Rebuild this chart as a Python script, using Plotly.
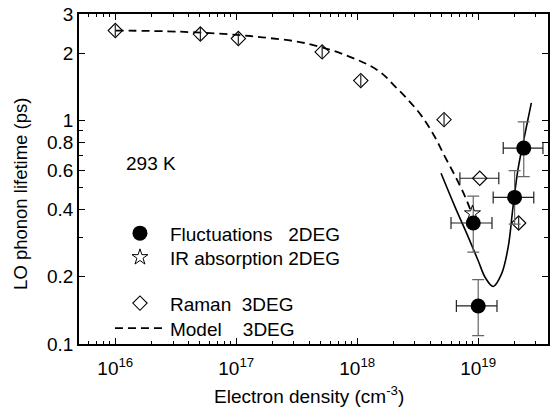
import plotly.graph_objects as go

# ---- data ----
# Fluctuations 2DEG (filled circles) with asymmetric error bars
fluc_x = [9.1e18, 1.0e19, 2.0e19, 2.38e19]
fluc_y = [0.348, 0.148, 0.453, 0.753]
fluc_x_lo = [5.96e18, 6.6e18, 1.33e19, 1.61e19]
fluc_x_hi = [1.30e19, 1.43e19, 2.88e19, 3.43e19]
fluc_y_lo = [0.258, 0.109, 0.344, 0.561]
fluc_y_hi = [0.459, 0.194, 0.597, 0.987]

# IR absorption 2DEG (open star)
ir_x = [8.97e18]
ir_y = [0.384]

# Raman 3DEG (open diamonds)
raman_x = [1.0e16, 5.05e16, 1.04e17, 5.13e17, 1.07e18, 5.22e18, 1.03e19, 2.16e19]
raman_y = [2.53, 2.44, 2.33, 2.03, 1.51, 1.01, 0.552, 0.348]
raman_x_lo = [None, None, None, None, None, None, 7.06e18, None]
raman_x_hi = [None, None, None, None, None, None, 1.48e19, None]

# Model 3DEG (dashed curve)
model_x = [1.0e16, 3.4e16, 1.0e17, 1.64e17, 3.75e17, 8.5e17, 1.5e18, 2.06e18,
           2.7e18, 3.4e18, 4.3e18, 5.3e18, 6.5e18, 7.8e18, 8.6e18]
model_y = [2.53, 2.50, 2.42, 2.36, 2.22, 1.94, 1.67, 1.42,
           1.22, 1.05, 0.86, 0.69, 0.56, 0.456, 0.40]

# Fit through fluctuation data (solid curve)
fit_x = [4.93e18, 6.43e18, 8.28e18, 1.0e19, 1.14e19, 1.33e19, 1.56e19, 1.77e19,
         1.94e19, 2.13e19, 2.38e19, 2.75e19]
fit_y = [0.581, 0.411, 0.301, 0.236, 0.199, 0.181, 0.206, 0.272,
         0.411, 0.602, 0.821, 1.2]

x_tickvals = [1e16, 1e17, 1e18, 1e19]
x_ticktext = ["10<sup>16</sup>", "10<sup>17</sup>", "10<sup>18</sup>", "10<sup>19</sup>"]
x_minor = [float(m) * 10.0 ** e for e in (15, 16, 17, 18, 19) for m in range(2, 10)]
y_tickvals = [0.1, 0.2, 0.4, 0.6, 0.8, 1, 2, 3]
y_ticktext = ["0.1", "0.2", "0.4", "0.6", "0.8", "1", "2", "3"]
y_minor = [0.3, 0.5, 0.7, 0.9]

FONT = "Liberation Sans, Arial, Helvetica, sans-serif"

def minus(vals, lo):
    return [None if l is None else v - l for v, l in zip(vals, lo)]

def plus(vals, hi):
    return [None if h is None else h - v for v, h in zip(vals, hi)]

fig = go.Figure()

fig.add_trace(go.Scatter(
    x=fit_x, y=fit_y, mode="lines", line=dict(color="black", width=1.6, shape="spline"),
    showlegend=False, hoverinfo="skip"))

fig.add_trace(go.Scatter(
    x=model_x, y=model_y, mode="lines", name="Model\u00a0\u00a0\u00a0\u00a03DEG",
    line=dict(color="black", width=1.8, dash="8px,5px", shape="spline"),
    legend="legend4"))

fig.add_trace(go.Scatter(
    x=raman_x, y=raman_y, mode="markers", name="Raman\u00a0\u00a03DEG",
    marker=dict(symbol="diamond-open", size=11, color="black", line=dict(width=1.1)),
    error_x=dict(type="data", symmetric=False,
                 array=[0.0 if v is None else v for v in plus(raman_x, raman_x_hi)],
                 arrayminus=[0.0 if v is None else v for v in minus(raman_x, raman_x_lo)],
                 color="#222", thickness=1.2, width=6),
    legend="legend3"))

fig.add_trace(go.Scatter(
    x=fluc_x, y=fluc_y, mode="markers", name="Fluctuations\u00a0\u00a0\u00a02DEG",
    marker=dict(symbol="circle", size=15, color="black"),
    error_x=dict(type="data", symmetric=False, array=plus(fluc_x, fluc_x_hi),
                 arrayminus=minus(fluc_x, fluc_x_lo), color="#222", thickness=1.2, width=6),
    error_y=dict(type="data", symmetric=False, array=plus(fluc_y, fluc_y_hi),
                 arrayminus=minus(fluc_y, fluc_y_lo), color="#666", thickness=1.2, width=6),
    legend="legend"))

fig.add_trace(go.Scatter(
    x=ir_x, y=ir_y, mode="markers", name="IR absorption 2DEG",
    marker=dict(symbol="star-open", size=12, color="black", line=dict(width=1)),
    legend="legend2"))

axis_common = dict(
    showline=True, linecolor="black", linewidth=1.5, mirror="ticks",
    ticks="inside", ticklen=6, tickwidth=1, tickcolor="black",
    showgrid=False, zeroline=False,
    tickfont=dict(family=FONT, size=19, color="black"),
)

fig.update_xaxes(
    type="log", range=[15.70, 19.577], tickmode="array",
    tickvals=x_tickvals, ticktext=x_ticktext, ticklabelstandoff=6,
    minor=dict(tickmode="array", tickvals=x_minor, ticks="inside", ticklen=3,
               tickcolor="black", tickwidth=1, showgrid=False),
    **axis_common)
fig.update_yaxes(
    type="log", range=[-1, 0.47712], tickmode="array",
    tickvals=y_tickvals, ticktext=y_ticktext,
    minor=dict(tickmode="array", tickvals=y_minor, ticks="inside", ticklen=4,
               tickcolor="black", tickwidth=1, showgrid=False),
    **axis_common)

def leg(ypaper):
    return dict(x=0.066, y=ypaper, xanchor="left", yanchor="top",
                bgcolor="rgba(0,0,0,0)", borderwidth=0, itemwidth=50,
                font=dict(family=FONT, size=19, color="black"))

fig.update_layout(
    width=551, height=410,
    margin=dict(l=79, r=1, t=14, b=66),
    paper_bgcolor="white", plot_bgcolor="white",
    font=dict(family=FONT, size=19, color="black"),
    showlegend=True,
    legend=leg(0.393),
    legend2=leg(0.320),
    legend3=leg(0.181),
    legend4=leg(0.105),
    annotations=[
        dict(text="293 K", xref="paper", yref="paper", x=0.154, y=0.548,
             xanchor="center", yanchor="middle",
             showarrow=False, font=dict(family=FONT, size=19)),
        dict(text="LO phonon lifetime (ps)", xref="paper", yref="paper",
             x=-0.125, y=0.456, xanchor="center", yanchor="middle",
             textangle=-90, showarrow=False,
             font=dict(family=FONT, size=18.5)),
        dict(text="Electron density (cm<sup>-3</sup>)", xref="paper", yref="paper",
             x=0.49, y=-0.155, showarrow=False, xanchor="center", yanchor="middle",
             font=dict(family=FONT, size=19)),
    ],
)

fig.write_html("out.html")
